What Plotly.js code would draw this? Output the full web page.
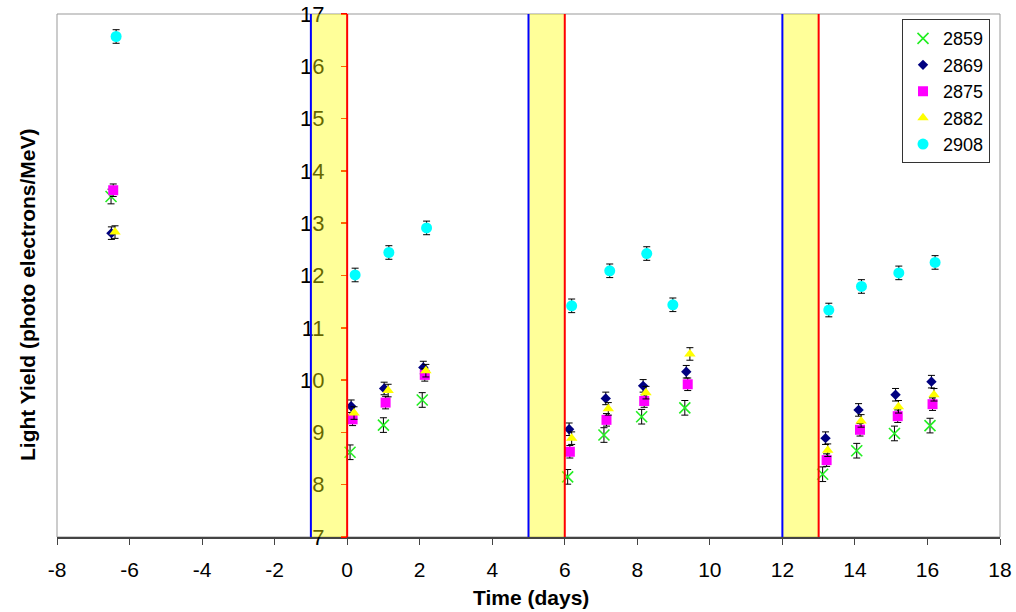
<!DOCTYPE html>
<html>
<head>
<meta charset="utf-8">
<script src="https://cdn.plot.ly/plotly-3.0.1.min.js"></script>
<style>html,body{margin:0;padding:0;background:#fff;}#chart{width:1016px;height:612px;}</style>
</head>
<body>
<div id="chart"></div>
<script>
// ---- data ----
const seriesNames = ["2859", "2869", "2875", "2882", "2908"];

const x2859 = [-6.51, 0.08, 1.00, 2.07, 6.08, 7.08, 8.12, 9.31, 13.11, 14.05, 15.09, 16.07];
const y2859 = [13.51, 8.62, 9.14, 9.62, 8.15, 8.95, 9.30, 9.47, 8.20, 8.65, 8.98, 9.13];
const e2859 = 0.14;

const x2869 = [-6.50, 0.11, 1.02, 2.10, 6.12, 7.13, 8.16, 9.35, 13.19, 14.10, 15.12, 16.11];
const y2869 = [12.81, 9.50, 9.84, 10.24, 9.06, 9.65, 9.89, 10.16, 8.89, 9.43, 9.72, 9.97];
const e2869 = 0.12;

const x2875 = [-6.45, 0.15, 1.06, 2.14, 6.14, 7.15, 8.19, 9.39, 13.22, 14.14, 15.18, 16.14];
const y2875 = [13.63, 9.25, 9.57, 10.10, 8.63, 9.24, 9.60, 9.92, 8.47, 9.05, 9.31, 9.54];
const e2875 = 0.12;

const x2882 = [-6.40, 0.19, 1.13, 2.17, 6.19, 7.20, 8.24, 9.45, 13.25, 14.17, 15.20, 16.18];
const y2882 = [12.83, 9.37, 9.80, 10.18, 8.89, 9.45, 9.76, 10.50, 8.66, 9.22, 9.49, 9.72];
const e2882 = 0.12;

const x2908 = [-6.37, 0.22, 1.15, 2.19, 6.19, 7.24, 8.26, 8.98, 13.28, 14.18, 15.21, 16.21];
const y2908 = [16.57, 12.01, 12.44, 12.91, 11.42, 12.09, 12.42, 11.44, 11.34, 11.79, 12.05, 12.25];
const e2908 = 0.13;

const bandStart = [-1, 5, 12];
const bandEnd = [0, 6, 13];

const xTickVals = [-8, -6, -4, -2, 0, 2, 4, 6, 8, 10, 12, 14, 16, 18];
const xTickText = ["-8", "-6", "-4", "-2", "0", "2", "4", "6", "8", "10", "12", "14", "16", "18"];

const xTitle = "Time (days)";
const yTitle = "Light Yield (photo electrons/MeV)";

// ---- styling ----
const FONT = "Liberation Sans, Arial, sans-serif";
const errStyle = v => ({type: "constant", symmetric: true, value: v, color: "#000", thickness: 1, width: 3.5, visible: true});

const styles = [
  {symbol: "x-thin-open", size: 11, color: "#22ee22", line: {color: "#22ee22", width: 1.6}},
  {symbol: "diamond", size: 8, color: "#000080"},
  {symbol: "square", size: 10, color: "#ff00ff"},
  {symbol: "triangle-up", size: 10, color: "#ffff00"},
  {symbol: "circle", size: 11, color: "#00ffff"}
];
const xs = [x2859, x2869, x2875, x2882, x2908];
const ys = [y2859, y2869, y2875, y2882, y2908];
const es = [e2859, e2869, e2875, e2882, e2908];

const traces = seriesNames.map((n, i) => ({
  type: "scatter", mode: "markers", name: n,
  x: xs[i], y: ys[i],
  error_y: errStyle(es[i]),
  marker: styles[i]
}));
// invisible helper trace so the label-only x axis (x2) is drawn
traces.push({type: "scatter", mode: "markers", x: [xTickVals[0]], y: [7], xaxis: "x2",
  marker: {opacity: 0}, showlegend: false, hoverinfo: "skip"});

const shapes = [];
bandStart.forEach((s, i) => {
  shapes.push({type: "rect", xref: "x", yref: "paper", x0: s, x1: bandEnd[i], y0: 0, y1: 1,
    fillcolor: "#ffff00", opacity: 0.4, line: {width: 0}, layer: "above"});
});
bandStart.forEach(s => {
  shapes.push({type: "line", xref: "x", yref: "paper", x0: s, x1: s, y0: 0, y1: 1,
    line: {color: "#0000ff", width: 2}, layer: "above"});
});
bandEnd.forEach(s => {
  shapes.push({type: "line", xref: "x", yref: "paper", x0: s, x1: s, y0: 0, y1: 1,
    line: {color: "#ff0000", width: 2}, layer: "above"});
});
// plot frame
shapes.push({type: "rect", xref: "paper", yref: "paper", x0: 0, x1: 1, y0: 0, y1: 1,
  line: {color: "#999999", width: 1}, layer: "below"});

const layout = {
  width: 1016, height: 612,
  margin: {l: 57, r: 16, t: 14, b: 75},
  paper_bgcolor: "#fff", plot_bgcolor: "#fff",
  font: {family: FONT, color: "#000", size: 20},
  showlegend: true,
  legend: {x: 0.9894, xanchor: "right", y: 0.99, yanchor: "top",
    bgcolor: "#fff", bordercolor: "#333", borderwidth: 1,
    font: {family: FONT, size: 18, color: "#000"}},
  xaxis: {range: [-8, 18], tickmode: "array", tickvals: xTickVals, showticklabels: false,
    showgrid: false, zeroline: false,
    showline: true, linecolor: "#444", linewidth: 1.5,
    ticks: "outside", ticklen: 6, tickcolor: "#444", tickwidth: 1},
  xaxis2: {range: [-8, 18], overlaying: "x", anchor: "y", side: "bottom",
    tickmode: "array", tickvals: xTickVals, ticktext: xTickText,
    showgrid: false, zeroline: false, showline: false,
    ticks: "outside", ticklen: 14, tickcolor: "rgba(0,0,0,0)",
    tickfont: {family: FONT, size: 21, color: "#000"}},
  yaxis: {range: [7, 17], dtick: 1, showgrid: false, zeroline: false,
    anchor: "free", position: 8 / 26, showline: false,
    ticks: "outside", ticklen: 6, tickcolor: "#ff0000", tickwidth: 1.5,
    ticksuffix: "\u00a0\u00a0",
    tickfont: {family: FONT, size: 22, color: "#000"}},
  shapes: shapes,
  annotations: [
    {text: "<b>" + yTitle + "</b>", xref: "paper", yref: "paper", x: 0, y: 0.4627,
     xshift: -30, textangle: -90, showarrow: false, xanchor: "center", yanchor: "middle",
     font: {family: FONT, size: 21, color: "#000"}},
    {text: "<b>" + xTitle + "</b>", xref: "paper", yref: "paper", x: 0.5027, y: 0,
     yshift: -60, showarrow: false, xanchor: "center", yanchor: "middle",
     font: {family: FONT, size: 21, color: "#000"}}
  ]
};

Plotly.newPlot("chart", traces, layout, {displayModeBar: false, staticPlot: true});
</script>
</body>
</html>
